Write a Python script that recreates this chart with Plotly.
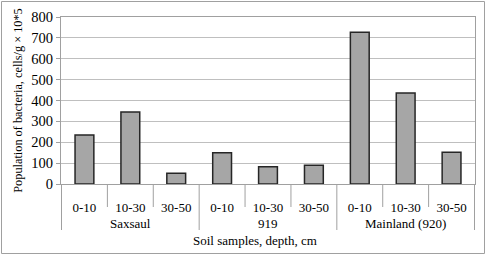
import plotly.graph_objects as go

group_names = ["Saxsaul", "919", "Mainland (920)"]
depth_names = ["0-10", "10-30", "30-50"]
groups = ["Saxsaul"] * 3 + ["919"] * 3 + ["Mainland (920)"] * 3
depths = ["0-10", "10-30", "30-50"] * 3
values = [235, 345, 51, 150, 83, 90, 727, 436, 152]
yticks = [0, 100, 200, 300, 400, 500, 600, 700, 800]

W, H = 486, 255
L, R, T, B = 61, 11, 17, 71
pw, ph = W - L - R, H - T - B

def py(pix):  # pixel row -> paper y
    return (T + ph - pix) / ph

font = "Liberation Serif"
line_c = "#a0a0a0"

cats = [f"{g} {d}" for g, d in zip(groups, depths)]

fig = go.Figure(go.Bar(
    x=cats, y=values,
    marker=dict(color="#a6a6a6", line=dict(color="#262626", width=1.5)),
))

shapes = []
annotations = []
n = len(cats)
for i in range(n + 1):
    b = i - 0.5
    is_group = (i % len(depth_names) == 0)
    shapes.append(dict(type="line", xref="x", yref="paper", x0=b, x1=b,
                       y0=0, y1=py(230 if is_group else 207),
                       line=dict(color=line_c, width=1)))
for gi, g in enumerate(group_names):
    mid = gi * len(depth_names) + (len(depth_names) - 1) / 2
    annotations.append(dict(text=g, xref="x", yref="paper", x=mid, y=py(223),
                            xanchor="center", yanchor="middle", showarrow=False,
                            font=dict(family=font, size=13)))
annotations.append(dict(
    text="Soil samples, depth, cm", xref="paper", yref="paper",
    x=(255 - L) / pw, y=py(240), xanchor="center", yanchor="middle",
    showarrow=False, font=dict(family=font, size=13)))
shapes.append(dict(
    type="rect", xref="paper", yref="paper",
    x0=(1.5 - L) / pw, x1=(484.5 - L) / pw,
    y0=py(253.5), y1=py(1.5),
    line=dict(color=line_c, width=1)))

fig.update_layout(
    width=W, height=H,
    margin=dict(l=L, r=R, t=T, b=B, autoexpand=False),
    paper_bgcolor="white", plot_bgcolor="white",
    font=dict(family=font, size=13, color="black"),
    bargap=0.59,
    showlegend=False,
    xaxis=dict(
        type="category", automargin=False,
        tickvals=cats, ticktext=depths,
        showline=True, linecolor=line_c, linewidth=1, mirror=True,
        ticks="", ticklabelstandoff=11,
        tickfont=dict(family=font, size=13, color="black"),
    ),
    yaxis=dict(
        range=[0, 800], tickvals=yticks, ticktext=[str(v) for v in yticks],
        automargin=False,
        showgrid=True, gridcolor="#bfbfbf", gridwidth=1,
        showline=True, linecolor=line_c, linewidth=1, mirror=True,
        ticks="outside", ticklen=4, tickcolor=line_c,
        tickfont=dict(family=font, size=14.5, color="black"),
        title=dict(text="Population of bacteria, cells/g × 10*5",
                   font=dict(family=font, size=12.3), standoff=6),
        zeroline=False,
    ),
    annotations=annotations,
    shapes=shapes,
)

fig.write_html("out.html", config={"displayModeBar": False},
               post_script="document.body.style.margin='0';document.body.style.overflow='hidden';")
